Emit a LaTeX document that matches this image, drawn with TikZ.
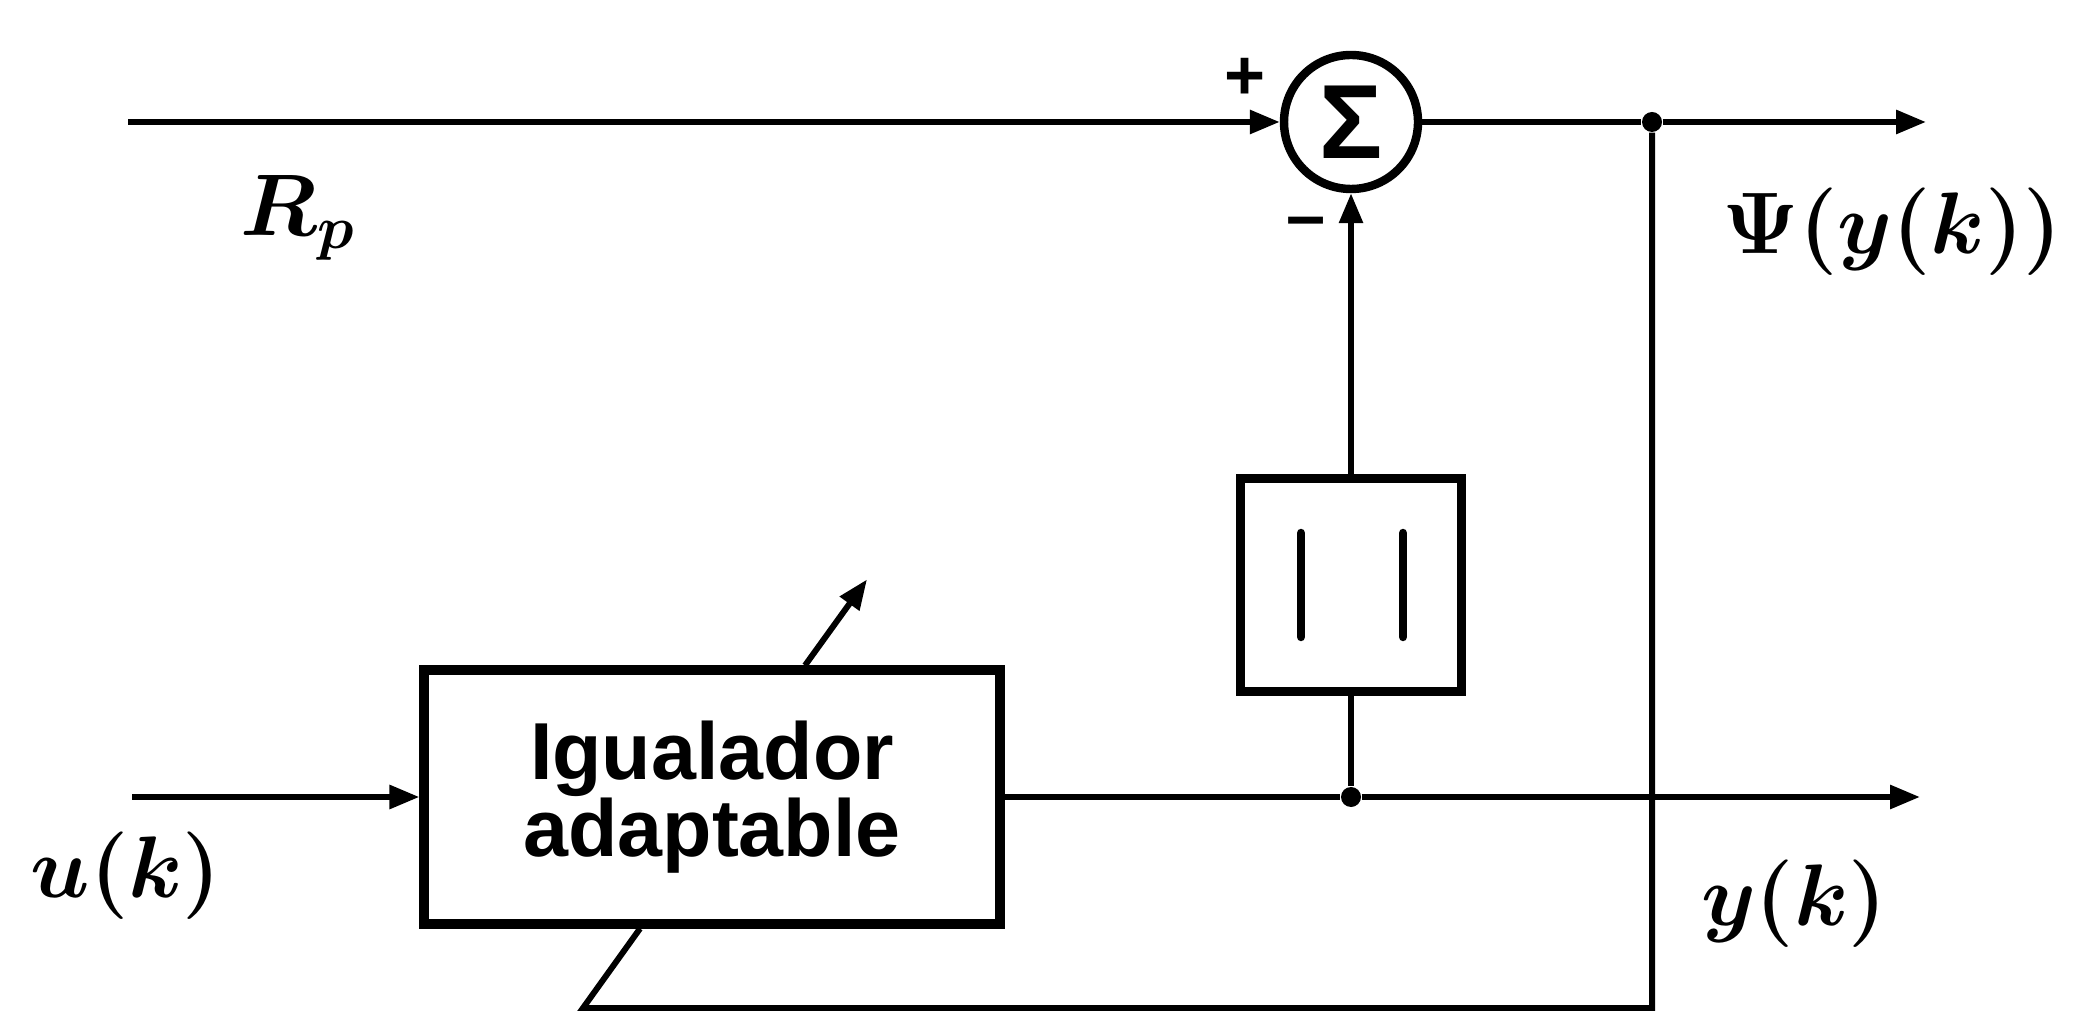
\documentclass[tikz,border=0pt]{standalone}
\usepackage{fontspec}
\setsansfont{Liberation Sans}
\usetikzlibrary{arrows.meta}

\begin{document}
\begin{tikzpicture}[
    sig/.style={-{Triangle[length=0.3cm,width=0.23cm]}, line width=1.7pt},
    wire/.style={line width=1.7pt},
    blockbox/.style={draw, line width=2.6pt, inner sep=0pt},
    dotjoin/.style={fill, circle, inner sep=0pt, minimum size=0.2cm},
    lbl/.style={font=\fontsize{26}{30}\selectfont\boldmath},
    sgn/.style={font=\sffamily\bfseries\fontsize{20}{24}\selectfont}
]
    \useasboundingbox (0,0) rectangle (20.76,10.13);

    % Summing junction
    \node[draw, circle, line width=2.4pt, minimum size=1.34cm, inner sep=0pt,
          font=\sffamily\bfseries\fontsize{30}{34}\selectfont] (sum) at (13.51,8.91) {Σ};
    \node[sgn] (plus) at (12.45,9.34) {+};
    \node[sgn] (minus) at (13.06,7.85) {–};

    % Reference line R_p and output Psi
    \coordinate (rp in) at (1.28,8.91);
    \draw[sig] (rp in) -- (sum.west);
    \node[dotjoin] (jtop) at (16.52,8.91) {};
    \coordinate (psi out) at (19.26,8.91);
    \draw[wire] (sum.east) -- (jtop);
    \draw[sig] (jtop) -- (psi out);

    % Modulus block
    \node[blockbox, minimum width=2.21cm, minimum height=2.13cm] (abs) at (13.51,4.28) {};
    \draw[line width=2.4pt, line cap=round] ([xshift=-0.5cm, yshift=-0.52cm]abs.center) -- ([xshift=-0.5cm, yshift=0.52cm]abs.center);
    \draw[line width=2.4pt, line cap=round] ([xshift=0.52cm, yshift=-0.52cm]abs.center) -- ([xshift=0.52cm, yshift=0.52cm]abs.center);
    \draw[sig] (abs.north) -- (sum.south);

    % Adaptive equalizer
    \node[blockbox, minimum width=5.76cm, minimum height=2.54cm, align=center,
          font=\sffamily\bfseries\fontsize{23}{22}\selectfont] (eq) at (7.12,2.16) {Igualador\\adaptable};
    \coordinate (u in) at (1.32,2.16);
    \draw[sig] (u in) -- (eq.west);

    % Output y(k)
    \node[dotjoin] (jmid) at (abs.south |- eq.east) {};
    \coordinate (y out) at (19.20,2.16);
    \draw[wire] (eq.east) -- (jmid);
    \draw[sig] (jmid) -- (y out);
    \draw[wire] (abs.south) -- (jmid);

    % Adaptation arrow
    \coordinate (adapt tip) at ([xshift=1.55cm, yshift=0.86cm]eq.north);
    \draw[sig] ([xshift=0.93cm]eq.north) -- (adapt tip);

    % Error feedback to the equalizer
    \coordinate (fb corner) at (16.52,0.05);
    \coordinate (fb foot) at (5.83,0.05);
    \draw[wire] (jtop) -- (fb corner) -- (fb foot) -- ([xshift=-0.72cm]eq.south);

    % Signal labels
    \node[lbl] (rp) at (2.98,7.95) {$R_p$};
    \node[lbl] (uk) at (1.26,1.37) {$u(k)$};
    \node[lbl] (yk) at (17.94,1.09) {$y(k)$};
    \node[lbl, font=\fontsize{24}{28}\selectfont\boldmath, anchor=east] (psi) at (20.74,7.81) {$\Psi(y(k))$};
\end{tikzpicture}
\end{document}
